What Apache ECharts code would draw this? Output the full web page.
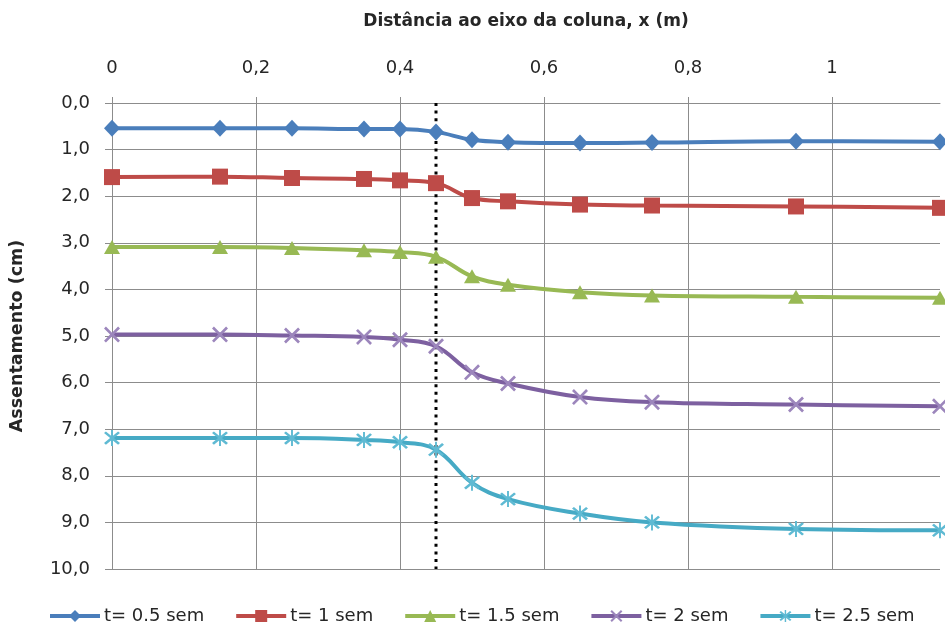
<!DOCTYPE html>
<html><head><meta charset="utf-8">
<script src="https://cdn.jsdelivr.net/npm/echarts@6/dist/echarts.min.js"></script>
<style>html,body{margin:0;padding:0;background:#fff}#c{width:945px;height:630px}</style>
</head><body><div id="c"></div>
<script>
const xValues = [0, 0.15, 0.25, 0.35, 0.4, 0.45, 0.5, 0.55, 0.65, 0.75, 0.95, 1.15];
const seriesNames = ['t= 0.5 sem', 't= 1 sem', 't= 1.5 sem', 't= 2 sem', 't= 2.5 sem'];
const t05 = [0.54, 0.54, 0.54, 0.56, 0.56, 0.62, 0.79, 0.84, 0.86, 0.85, 0.82, 0.83];
const t10 = [1.59, 1.58, 1.61, 1.63, 1.66, 1.72, 2.04, 2.11, 2.18, 2.20, 2.22, 2.25];
const t15 = [3.09, 3.09, 3.11, 3.16, 3.20, 3.30, 3.72, 3.90, 4.06, 4.13, 4.16, 4.18];
const t20 = [4.97, 4.97, 4.99, 5.02, 5.08, 5.22, 5.78, 6.02, 6.31, 6.42, 6.47, 6.51];
const t25 = [7.19, 7.19, 7.19, 7.23, 7.28, 7.44, 8.15, 8.50, 8.81, 9.00, 9.14, 9.17];
const columnEdgeX = 0.45;
const yRange = [0, 10];

const colors = ['#4A7EBB', '#BE4B48', '#98B954', '#7D60A0', '#46AAC5'];
const markerColors = ['#4A7EBB', '#BE4B48', '#98B954', '#9C86BC', '#5FBAD3'];
const xSym = 'path://M0,1.2L1.2,0L5,3.8L8.8,0L10,1.2L6.2,5L10,8.8L8.8,10L5,6.2L1.2,10L0,8.8L3.8,5Z';
const starSym = 'path://M0,1.2L1.2,0L5,3.8L8.8,0L10,1.2L6.2,5L10,8.8L8.8,10L5,6.2L1.2,10L0,8.8L3.8,5ZM4.4,-1L5.6,-1L5.6,11L4.4,11Z';
const symbols = ['diamond', 'rect', 'triangle', xSym, starSym];
const symbolSizes = [[16, 17], 16, [16, 14], 16, 16];
const allData = [t05, t10, t15, t20, t25];

const font = '"DejaVu Sans", sans-serif';
const txt = '#262626';
const gridColor = '#8c8c8c';

const series = allData.map((vals, i) => ({
  name: seriesNames[i],
  type: 'line',
  smooth: 0.4,
  data: xValues.map((x, k) => [x, vals[k]]),
  symbol: symbols[i],
  symbolSize: symbolSizes[i],
  showAllSymbol: true,
  lineStyle: { color: colors[i], width: 4 },
  itemStyle: { color: markerColors[i], borderColor: markerColors[i], borderWidth: 0 },
  z: 3
}));
series.push({
  name: 'col',
  type: 'line',
  data: [[columnEdgeX, yRange[0]], [columnEdgeX, yRange[1]]],
  symbol: 'none',
  lineStyle: { color: '#000', width: 3, type: [3, 4.6] },
  z: 2,
  silent: true
});

const chart = echarts.init(document.getElementById('c'), null, { renderer: 'canvas' });
chart.setOption({
  animation: false,
  color: colors,
  grid: { left: 112, right: 5, top: 103, bottom: 61 },
  xAxis: {
    type: 'value', position: 'top', min: 0, max: 1.15, interval: 0.2,
    name: 'Distância ao eixo da coluna, x (m)', nameLocation: 'middle', nameGap: 73,
    nameTextStyle: { fontFamily: font, fontSize: 17, fontWeight: 'bold', color: txt },
    axisLine: { show: true, lineStyle: { color: gridColor, width: 1 } },
    axisTick: { show: true, length: 6, lineStyle: { color: gridColor } },
    axisLabel: { fontFamily: font, fontSize: 18, color: txt, margin: 26, showMaxLabel: false,
      formatter: v => String(Math.round(v * 10) / 10).replace('.', ',') },
    splitLine: { show: true, showMaxLine: false, lineStyle: { color: gridColor, width: 1 } }
  },
  yAxis: {
    type: 'value', inverse: true, min: yRange[0], max: yRange[1], interval: 1,
    name: 'Assentamento (cm)', nameLocation: 'middle', nameGap: 86, nameRotate: 90,
    nameTextStyle: { fontFamily: font, fontSize: 17.5, fontWeight: 'bold', color: txt },
    axisLine: { show: true, lineStyle: { color: gridColor, width: 1 } },
    axisTick: { show: true, length: 7, lineStyle: { color: gridColor } },
    axisLabel: { fontFamily: font, fontSize: 18, color: txt, margin: 22,
      formatter: v => v.toFixed(1).replace('.', ',') },
    splitLine: { show: true, lineStyle: { color: gridColor, width: 1 } }
  },
  legend: {
    data: seriesNames, top: 607, left: 48, padding: 0,
    itemWidth: 50, itemHeight: 15, itemGap: 30,
    lineStyle: { width: 4 },
    textStyle: { fontFamily: font, fontSize: 18, color: txt, padding: [0, 0, 0, -1] }
  },
  series
});
</script></body></html>
